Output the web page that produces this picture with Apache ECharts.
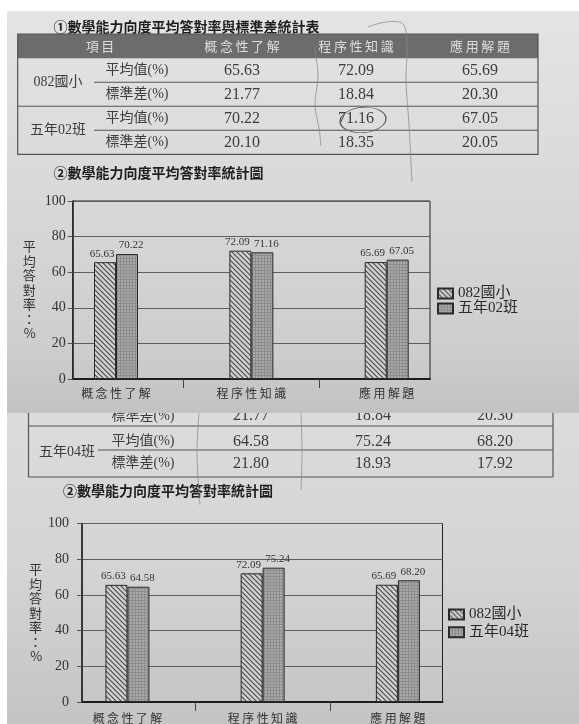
<!DOCTYPE html>
<html><head><meta charset="utf-8">
<script src="https://cdn.jsdelivr.net/npm/echarts@6/dist/echarts.min.js"></script>
<style>html,body{margin:0;padding:0;background:#fff}#c{width:579px;height:724px}</style>
</head><body><div id="c"></div>
<script>
// ---------- data ----------
const categories = ['概念性了解', '程序性知識', '應用解題'];
const tableHeader = ['項目', '概念性了解', '程序性知識', '應用解題'];
const rowLabels = ['平均值(%)', '標準差(%)'];
const groupA = '082國小';
const groupB = '五年02班';
const groupC = '五年04班';
const meanA = [65.63, 72.09, 65.69];
const sdA = [21.77, 18.84, 20.30];
const meanB = [70.22, 71.16, 67.05];
const sdB = [20.10, 18.35, 20.05];
const meanC = [64.58, 75.24, 68.20];
const sdC = [21.80, 18.93, 17.92];
const yMin = 0, yMax = 100, yStep = 20;
const title1 = '①數學能力向度平均答對率與標準差統計表';
const title2 = '②數學能力向度平均答對率統計圖';
const yName = '平均答對率：%';

// ---------- styles ----------
const SERIF = "'Liberation Serif','Noto Sans CJK TC',serif";
const CJK = "'Noto Sans CJK TC','Liberation Serif',sans-serif";
const INK = '#3c3c3c';

function hatchPattern() {
  const s = 5, c = document.createElement('canvas');
  c.width = s; c.height = s;
  const g = c.getContext('2d');
  g.fillStyle = '#d0d0cf'; g.fillRect(0, 0, s, s);
  g.strokeStyle = '#4a4a4a'; g.lineWidth = 1.1;
  g.beginPath();
  g.moveTo(-1, -1); g.lineTo(s + 1, s + 1);
  g.moveTo(-1, s - 1); g.lineTo(1, s + 1);
  g.moveTo(s - 1, -1); g.lineTo(s + 1, 1);
  g.stroke();
  return c;
}
function greyPattern() {
  const s = 3, c = document.createElement('canvas');
  c.width = s; c.height = s;
  const g = c.getContext('2d');
  g.fillStyle = '#a9a9a8'; g.fillRect(0, 0, s, s);
  g.fillStyle = '#8d8d8c'; g.fillRect(0, 0, s, 1); g.fillRect(0, 0, 1, s);
  return c;
}
const HATCH = hatchPattern();
const GREY = greyPattern();

// ---------- graphic helpers ----------
function T(text, x, y, o) {
  o = o || {};
  return {
    type: 'text', x: x, y: y, z: o.z != null ? o.z : 1, silent: true,
    style: {
      text: text, fill: o.fill || INK, fontSize: o.size || 14,
      fontFamily: o.family || SERIF, fontWeight: o.weight || 'normal',
      align: o.align || 'center', textAlign: o.align || 'center',
      verticalAlign: 'middle', textVerticalAlign: 'middle'
    }
  };
}
function L(x1, y1, x2, y2, o) {
  o = o || {};
  return { type: 'line', z: o.z != null ? o.z : 1, silent: true,
    shape: { x1: x1, y1: y1, x2: x2, y2: y2 },
    style: { stroke: o.stroke || '#555', lineWidth: o.w || 1.1 } };
}
function pen(points, z) {
  return { type: 'polyline', z: z || 6, silent: true,
    shape: { points: points, smooth: 0.35 },
    style: { stroke: '#8a8a8a', lineWidth: 1, fill: null, opacity: 0.75 } };
}
const fmt = v => v.toFixed(2);

const G = [];
// photo backgrounds
G.push({ type: 'rect', z: -100, silent: true, shape: { x: 7, y: 413, width: 572, height: 311 },
  style: { fill: { type: 'linear', x: 0, y: 0, x2: 0, y2: 1, colorStops: [
    { offset: 0, color: '#dcdcdb' }, { offset: 0.5, color: '#d4d4d3' }, { offset: 1, color: '#c4c4c3' }] } } });
// partial row from second photo (top half hidden under first photo)
G.push(T(rowLabels[1], 143, 416, { z: -90 }));
sdA.forEach((v, i) => G.push(T(fmt(v), [251, 373, 495][i], 416, { z: -90, size: 16 })));
G.push({ type: 'rect', z: -80, silent: true, shape: { x: 7, y: 11, width: 572, height: 402 },
  style: { fill: { type: 'linear', x: 0, y: 0, x2: 0, y2: 1, colorStops: [
    { offset: 0, color: '#e4e4e2' }, { offset: 0.45, color: '#d9d9d8' }, { offset: 0.85, color: '#cdcdcc' }, { offset: 1, color: '#c2c2c1' }] } } });

// ---------- table 1 ----------
(function () {
  const L0 = 17.7, R0 = 538, top = 34, hh = 24.3, rh = 24;
  const colX = [100, 242, 356, 480];
  G.push({ type: 'rect', z: 1, silent: true, shape: { x: L0, y: top, width: R0 - L0, height: hh }, style: { fill: '#6c6c6b' } });
  tableHeader.forEach((t, i) => G.push(T(t.split('').join('\u2009'), colX[i], top + hh / 2, { fill: '#dedede', size: 13, family: CJK, z: 2 })));
  const y0 = top + hh;
  G.push({ type: 'rect', z: 2, silent: true, shape: { x: L0, y: top, width: R0 - L0, height: hh + rh * 4 },
    style: { fill: null, stroke: '#555', lineWidth: 1.2 } });
  G.push(L(94, y0 + rh, R0, y0 + rh));
  G.push(L(L0, y0 + rh * 2, R0, y0 + rh * 2));
  G.push(L(94, y0 + rh * 3, R0, y0 + rh * 3));
  const groups = [[groupA, meanA, sdA], [groupB, meanB, sdB]];
  groups.forEach((gr, gi) => {
    const ry = y0 + rh * 2 * gi;
    G.push(T(gr[0], 58, ry + rh, { size: 14 }));
    [gr[1], gr[2]].forEach((vals, k) => {
      const cy = ry + rh * k + rh / 2;
      G.push(T(rowLabels[k], 137, cy, { size: 14 }));
      vals.forEach((v, i) => G.push(T(fmt(v), colX[i + 1], cy, { size: 16 })));
    });
  });
})();
G.push(T(title1, 53.5, 27, { align: 'left', size: 14, weight: 'bold', fill: '#1e1e1e', family: CJK }));
G.push(T(title2, 53.5, 173, { align: 'left', size: 14, weight: 'bold', fill: '#1e1e1e', family: CJK }));

// ---------- table 2 (second photo) ----------
(function () {
  const L0 = 28.5, R0 = 553;
  const colX = [251, 373, 495];
  G.push(L(L0, 413, L0, 477, { w: 1.2 }));
  G.push(L(R0, 413, R0, 477, { w: 1.2 }));
  G.push(L(L0, 426, R0, 426, { w: 1.2 }));
  G.push(L(98, 450, R0, 450));
  G.push(L(L0, 477, R0, 477, { w: 1.2 }));
  G.push(T(groupC, 67, 452, { size: 14 }));
  [meanC, sdC].forEach((vals, k) => {
    const cy = [441.5, 463.5][k];
    G.push(T(rowLabels[k], 143, cy, { size: 14 }));
    vals.forEach((v, i) => G.push(T(fmt(v), colX[i], cy, { size: 16 })));
  });
})();
G.push(T(title2, 63, 491, { align: 'left', size: 14, weight: 'bold', fill: '#1e1e1e', family: CJK }));

// ---------- pen annotations ----------
G.push({ type: 'circle', z: 6, silent: true, x: 363, y: 120, scaleY: 0.55, rotation: 0.08,
  shape: { cx: 0, cy: 0, r: 23 }, style: { fill: null, stroke: '#555', lineWidth: 1.3 } });
G.push(pen([[368, 27], [386, 22], [403, 24], [407, 45], [406, 80], [409, 125], [412, 182]], 6));
G.push(pen([[314, 46], [318, 75], [315, 105], [319, 128], [321, 146]], 6));
G.push(pen([[199, 413], [197, 455], [200, 505]], 6));
G.push(pen([[301, 413], [302, 452], [301, 490]], 6));

// ---------- chart helpers ----------
function grid(left, top, width, height) {
  return { left: left, top: top, width: width, height: height, show: true,
    borderColor: '#222', borderWidth: 1, backgroundColor: 'transparent', containLabel: false };
}
function xAxis(gi, min, max, margin) {
  return { type: 'value', gridIndex: gi, min: min, max: max,
    axisLine: { show: true, onZero: false, lineStyle: { color: '#1e1e1e', width: 2 } },
    axisTick: { show: true, customValues: [0.5, 1.5], length: 9, lineStyle: { color: '#444', width: 1 } },
    axisLabel: { customValues: [0, 1, 2], margin: margin, fontSize: 12, color: '#333', fontFamily: CJK,
      formatter: v => categories[Math.round(v)].split('').join('\u2009') },
    splitLine: { show: false } };
}
function yAxis(gi, labelMargin, nameGap) {
  return { type: 'value', gridIndex: gi, min: yMin, max: yMax, interval: yStep,
    axisLine: { show: true, onZero: false, lineStyle: { color: '#222', width: 1.5 } },
    axisTick: { show: true, length: 5, lineStyle: { color: '#555' } },
    axisLabel: { margin: labelMargin, fontSize: 14, color: '#333', fontFamily: SERIF },
    splitLine: { show: true, lineStyle: { color: '#5e5e5e', width: 1 } },
    name: yName.split('').join('\n'), nameLocation: 'middle', nameRotate: 0, nameGap: nameGap,
    nameTextStyle: { fontSize: 13, lineHeight: 14.5, color: '#333', fontFamily: CJK } };
}
function bars(name, values, ai, pattern, dx) {
  return { type: 'bar', name: name, xAxisIndex: ai, yAxisIndex: ai, barWidth: 22, barGap: '0%',
    data: values.map((v, i) => [i, v]),
    itemStyle: { color: { image: pattern, repeat: 'repeat' }, borderColor: '#2a2a2a', borderWidth: 1 },
    label: { show: true, position: 'top', distance: 3, offset: [dx, 0], formatter: p => p.value[1].toFixed(2),
      fontSize: 11, color: '#333', fontFamily: SERIF },
    emphasis: { disabled: true } };
}
function legend(items, left, top, gap) {
  return { data: items, left: left, top: top, padding: 0, orient: 'vertical', icon: 'rect',
    itemWidth: 15, itemHeight: 10, itemGap: gap, selectedMode: false,
    textStyle: { fontSize: 15, lineHeight: 14, color: '#2a2a2a', fontFamily: SERIF } };
}

const chart = echarts.init(document.getElementById('c'), null, { renderer: 'canvas' });
chart.setOption({
  animation: false,
  backgroundColor: '#ffffff',
  grid: [grid(72.7, 201, 357.3, 178), grid(82, 523.5, 360.5, 180.5)],
  xAxis: [xAxis(0, -0.32, 2.32, 8), xAxis(1, -0.336, 2.33, 10)],
  yAxis: [yAxis(0, 7, 37), yAxis(1, 13, 39)],
  legend: [legend([groupA, groupB], 437, 286, 0), legend([groupA, groupC], 448, 607, 2.7)],
  series: [
    bars(groupA, meanA, 0, HATCH, -3), bars(groupB, meanB, 0, GREY, 4),
    bars(groupA, meanA, 1, HATCH, -3), bars(groupC, meanC, 1, GREY, 4)
  ],
  graphic: G
});
</script></body></html>
